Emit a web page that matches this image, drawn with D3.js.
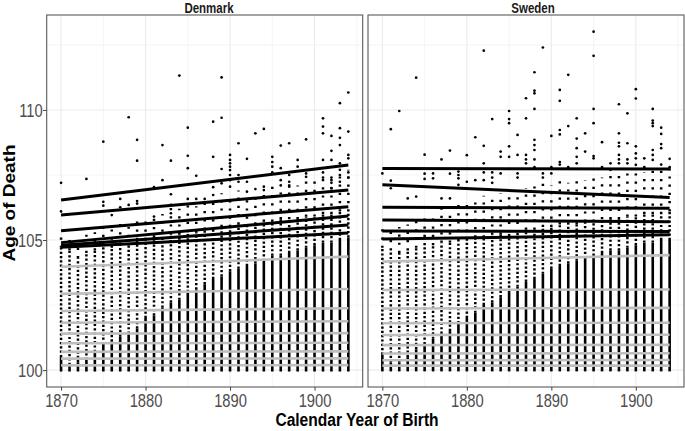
<!DOCTYPE html>
<html><head><meta charset="utf-8">
<script src="https://cdn.jsdelivr.net/npm/d3@7"></script>
<style>body{margin:0;background:#fff} svg{display:block}</style>
</head><body>
<svg id="c" width="685" height="431"></svg>
<script>
// ---------------- DATA ----------------
const years = [1870,1871,1872,1873,1874,1875,1876,1877,1878,1879,1880,1881,1882,1883,1884,1885,1886,1887,1888,1889,1890,1891,1892,1893,1894,1895,1896,1897,1898,1899,1900,1901,1902,1903,1904];
const countries = ["Denmark","Sweden"];
const xTicks = [1870,1880,1890,1900];
const yTicks = [100,105,110];

// Denmark: per birth year, tops of solid / dotted / sparse point columns (age)
const dkSolid  = [100.5,100.2,100.3,100.4,100.7,101.0,101.1,101.3,101.4,101.6,102.0,102.1,102.4,102.6,102.7,103.0,103.1,103.3,103.5,103.6,103.8,103.9,104.0,104.1,104.2,104.4,104.4,104.5,104.6,104.7,104.8,104.9,104.9,105.0,105.1];
const dkDotted = [104.7,104.6,104.3,104.5,104.6,104.8,104.7,104.9,104.8,105.0,105.0,105.1,105.0,105.2,105.2,105.3,105.3,105.4,105.4,105.5,105.5,105.6,105.5,105.6,105.7,105.7,105.8,105.8,105.8,105.9,105.9,106.0,106.0,106.1,106.1];
const dkSparse = [105.3,105.0,104.9,105.2,105.3,105.6,105.4,105.8,105.5,105.9,105.8,106.0,106.0,106.3,106.2,106.4,106.3,106.5,106.5,106.8,106.6,106.9,106.7,106.8,106.9,107.1,107.0,107.2,107.1,107.3,107.3,107.5,107.4,107.6,107.7];
const dkPoints = [[1870,107.2],[1870,106.1],[1873,107.35],[1875,108.78],[1875,106.47],[1875,106.32],[1876,105.96],[1877,106.58],[1877,106.26],[1878,109.72],[1878,106.35],[1879,108.85],[1879,108.05],[1879,106.5],[1879,106.4],[1881,107.03],[1881,105.9],[1882,108.65],[1882,107.3],[1883,108.05],[1883,106.76],[1883,106.35],[1883,106.03],[1884,111.32],[1885,109.32],[1885,108.24],[1885,107.76],[1885,106.58],[1886,107.47],[1886,106.58],[1887,106.58],[1888,109.55],[1888,108.2],[1888,107.03],[1888,106.73],[1889,111.25],[1889,109.7],[1889,107.73],[1889,107.18],[1890,108.27],[1890,108.08],[1890,107.95],[1890,107.82],[1890,107.69],[1890,107.5],[1890,107.3],[1890,107.05],[1891,108.72],[1891,107.5],[1891,107.24],[1892,108.12],[1892,107.24],[1892,106.86],[1893,109.1],[1893,106.96],[1894,109.27],[1894,107.05],[1894,106.92],[1895,108.2],[1895,108.0],[1895,107.82],[1895,107.6],[1896,108.63],[1896,107.76],[1896,107.3],[1896,107.1],[1897,108.72],[1897,107.5],[1897,107.24],[1897,107.05],[1898,108.08],[1898,107.82],[1899,108.87],[1899,107.56],[1899,107.43],[1901,109.68],[1901,109.36],[1901,109.1],[1901,108.08],[1901,107.6],[1901,107.4],[1902,109.0],[1902,108.43],[1902,108.08],[1902,107.4],[1902,107.2],[1902,107.0],[1903,110.26],[1903,109.3],[1903,108.93],[1903,108.65],[1903,107.95],[1903,107.7],[1903,107.5],[1903,107.24],[1904,110.67],[1904,109.17],[1904,108.27],[1904,108.14],[1904,107.6],[1904,107.4]];
// Denmark quantile regression lines: fitted age at 1870 and at 1904
const dkUpper1870 = [106.54,105.96,105.36,104.90,104.80,104.72];
const dkUpper1904 = [107.88,106.92,106.28,105.92,105.58,105.27];
const dkLower1870 = [103.97,102.93,102.27,101.82,101.40,101.03,100.70,100.44,100.18];
const dkLower1904 = [104.36,103.12,102.38,101.88,101.42,101.05,100.72,100.45,100.19];

// Sweden
const seSolid  = [100.6,100.3,100.3,100.5,100.8,101.0,101.2,101.4,101.5,101.8,102.0,102.2,102.5,102.6,102.8,103.0,103.2,103.4,103.5,103.7,103.9,104.0,104.1,104.2,104.3,104.4,104.5,104.6,104.6,104.7,104.8,104.9,104.9,105.0,105.0];
const seDotted = [104.7,104.6,104.5,104.6,104.7,104.8,104.8,104.9,104.9,105.0,105.0,105.1,105.1,105.2,105.2,105.3,105.3,105.4,105.4,105.5,105.5,105.6,105.6,105.6,105.7,105.7,105.8,105.8,105.8,105.9,105.9,106.0,106.0,106.0,106.1];
const seSparse = [105.6,105.4,105.5,105.6,105.8,106.0,105.9,106.2,106.1,106.4,106.5,106.5,106.7,106.6,106.8,106.9,106.8,107.0,107.1,107.2,107.1,107.3,107.2,107.4,107.3,107.5,107.4,107.5,107.6,107.6,107.7,107.6,107.8,107.7,107.8];
const sePoints = [[1870,107.56],[1871,109.26],[1871,107.28],[1871,106.99],[1872,109.96],[1873,106.6],[1874,111.24],[1874,106.67],[1875,108.28],[1875,107.55],[1875,107.35],[1876,107.56],[1876,107.37],[1877,108.1],[1877,106.6],[1878,108.44],[1878,107.55],[1878,106.6],[1879,107.63],[1879,107.5],[1879,107.37],[1879,107.12],[1880,108.26],[1880,107.24],[1881,108.95],[1881,107.3],[1882,112.28],[1882,108.62],[1882,107.95],[1882,107.6],[1882,107.3],[1883,109.65],[1883,107.6],[1883,107.4],[1883,107.2],[1884,108.4],[1884,108.2],[1884,107.56],[1885,109.96],[1885,109.65],[1885,109.49],[1885,108.6],[1885,108.2],[1886,109.04],[1886,108.27],[1886,107.56],[1886,107.4],[1887,110.45],[1887,109.68],[1887,108.27],[1887,108.1],[1887,107.95],[1888,111.45],[1888,110.74],[1888,110.64],[1888,110.04],[1888,108.85],[1888,108.65],[1888,108.46],[1888,108.1],[1888,107.8],[1889,112.4],[1889,107.56],[1889,107.4],[1890,109.0],[1890,107.8],[1890,107.56],[1891,110.77],[1891,110.35],[1891,109.23],[1891,109.06],[1891,108.0],[1891,107.9],[1892,111.35],[1892,109.38],[1892,107.8],[1893,109.68],[1893,108.9],[1893,108.53],[1893,108.2],[1893,107.95],[1894,109.1],[1894,108.4],[1895,113.01],[1895,112.08],[1895,110.04],[1895,109.49],[1895,108.23],[1895,108.14],[1896,108.76],[1896,107.8],[1897,107.95],[1897,107.7],[1898,110.22],[1898,109.1],[1898,108.74],[1898,108.6],[1898,108.27],[1898,108.1],[1898,107.95],[1899,109.87],[1899,108.72],[1899,108.1],[1899,107.95],[1900,110.8],[1900,110.44],[1900,108.6],[1900,108.33],[1900,108.14],[1900,107.89],[1901,108.14],[1901,107.8],[1902,110.04],[1902,109.59],[1902,109.49],[1902,109.38],[1902,108.46],[1902,108.27],[1902,108.08],[1903,109.32],[1903,109.08],[1903,108.69],[1903,108.53],[1903,107.9],[1904,108.12],[1904,107.8]];
const seUpper1870 = [107.75,107.12,106.26,105.77,105.35,105.04];
const seUpper1904 = [107.73,106.63,106.22,105.70,105.33,105.20];
const seLower1870 = [104.17,103.08,102.37,101.80,101.35,100.96,100.64,100.38,100.17];
const seLower1904 = [104.42,103.10,102.39,101.82,101.36,100.97,100.65,100.39,100.17];

// ---------------- DRAW ----------------
const SQ = 0.82; // horizontal text condensing
const FONT = "'Liberation Sans', Arial, Helvetica, sans-serif";
const svg = d3.select("#c");
const y = d3.scaleLinear().domain([99.35, 113.65]).range([387, 15]);

const panels = [
  {name: countries[0], left: 46.7, right: 362.7, labelX: 209, solid: dkSolid, dotted: dkDotted, sparse: dkSparse, pts: dkPoints, u0: dkUpper1870, u1: dkUpper1904, l0: dkLower1870, l1: dkLower1904, yAxis: true},
  {name: countries[1], left: 368, right: 684, labelX: 533, solid: seSolid, dotted: seDotted, sparse: seSparse, pts: sePoints, u0: seUpper1870, u1: seUpper1904, l0: seLower1870, l1: seLower1904, yAxis: false}
];

function squeezeAxisText(axisG) {
  axisG.selectAll("text").each(function() {
    const t = d3.select(this);
    const tx = +t.attr("x") || 0, ty = +t.attr("y") || 0;
    t.attr("x", 0).attr("y", 0).attr("transform", `translate(${tx},${ty}) scale(${SQ},1)`);
  });
}

panels.forEach((p, i) => {
  const x = d3.scaleLinear().domain([1868.3, 1905.7]).range([p.left, p.right]);
  const g = svg.append("g");
  const clipId = "clip" + i;
  svg.append("clipPath").attr("id", clipId).append("rect")
    .attr("x", p.left).attr("y", 15).attr("width", p.right - p.left).attr("height", 372);
  const body = g.append("g").attr("clip-path", `url(#${clipId})`);

  // grid
  const minorX = [1865,1875,1885,1895,1905], minorY = [102.5,107.5,112.5];
  body.selectAll(".mx").data(minorX).join("line")
    .attr("x1", d => x(d)).attr("x2", d => x(d)).attr("y1", 15).attr("y2", 387)
    .attr("stroke", "#ebebeb").attr("stroke-width", 0.55);
  body.selectAll(".my").data(minorY).join("line")
    .attr("y1", d => y(d)).attr("y2", d => y(d)).attr("x1", p.left).attr("x2", p.right)
    .attr("stroke", "#ebebeb").attr("stroke-width", 0.55);
  body.selectAll(".gx").data(xTicks).join("line")
    .attr("x1", d => x(d)).attr("x2", d => x(d)).attr("y1", 15).attr("y2", 387)
    .attr("stroke", "#ebebeb").attr("stroke-width", 1.1);
  body.selectAll(".gy").data(yTicks).join("line")
    .attr("y1", d => y(d)).attr("y2", d => y(d)).attr("x1", p.left).attr("x2", p.right)
    .attr("stroke", "#ebebeb").attr("stroke-width", 1.1);

  // point columns
  const cols = years.map((yr, k) => ({yr, s1: p.solid[k], s2: p.dotted[k], s3: p.sparse[k]}));
  body.selectAll(".c1").data(cols).join("line")
    .attr("x1", d => x(d.yr)).attr("x2", d => x(d.yr))
    .attr("y1", y(100) + 1.3).attr("y2", d => y(d.s1))
    .attr("stroke", "#000").attr("stroke-width", 2.6);
  body.selectAll(".c2").data(cols).join("line")
    .attr("x1", d => x(d.yr)).attr("x2", d => x(d.yr))
    .attr("y1", d => y(d.s1)).attr("y2", d => y(d.s2))
    .attr("stroke", "#000").attr("stroke-width", 2.5).attr("stroke-dasharray", "2.2,2.1");
  body.selectAll(".c3").data(cols).join("line")
    .attr("x1", d => x(d.yr)).attr("x2", d => x(d.yr))
    .attr("y1", d => y(d.s2)).attr("y2", d => y(d.s3))
    .attr("stroke", "#000").attr("stroke-width", 2.5).attr("stroke-dasharray", "2.2,6");
  body.selectAll(".pt").data(p.pts).join("circle")
    .attr("cx", d => x(d[0])).attr("cy", d => y(d[1])).attr("r", 1.35).attr("fill", "#000");

  // quantile lines
  const lower = p.l0.map((v, k) => [[years[0], v], [years[years.length - 1], p.l1[k]]]);
  const upper = p.u0.map((v, k) => [[years[0], v], [years[years.length - 1], p.u1[k]]]);
  const line = d3.line().x(d => x(d[0])).y(d => y(d[1]));
  body.selectAll(".lq").data(lower).join("path").attr("d", line)
    .attr("fill", "none").attr("stroke", "#bebebe").attr("stroke-width", 2.6);
  body.selectAll(".uq").data(upper).join("path").attr("d", line)
    .attr("fill", "none").attr("stroke", "#000").attr("stroke-width", 3);

  // border
  g.append("rect").attr("x", p.left).attr("y", 15).attr("width", p.right - p.left).attr("height", 372)
    .attr("fill", "none").attr("stroke", "#5a5a5a").attr("stroke-width", 1.1);

  // x axis
  const xa = g.append("g").attr("transform", "translate(0,387)")
    .call(d3.axisBottom(x).tickValues(xTicks).tickSize(3.7).tickPadding(3.3).tickFormat(d3.format("d")));
  xa.select(".domain").remove();
  xa.selectAll("line").attr("stroke", "#444").attr("stroke-width", 1);
  xa.selectAll("text").attr("fill", "#4d4d4d").style("font-size", "18px").style("font-family", FONT);
  squeezeAxisText(xa);

  if (p.yAxis) {
    const ya = g.append("g").attr("transform", `translate(${p.left},0)`)
      .call(d3.axisLeft(y).tickValues(yTicks).tickSize(3.7).tickPadding(0.3));
    ya.select(".domain").remove();
    ya.selectAll("line").attr("stroke", "#444").attr("stroke-width", 1);
    ya.selectAll("text").attr("fill", "#4d4d4d").style("font-size", "18px").style("font-family", FONT).attr("dy", "0.36em");
    squeezeAxisText(ya);
  }

  // strip label
  g.append("text").attr("transform", `translate(${p.labelX},13) scale(${SQ},1)`)
    .attr("text-anchor", "middle").style("font-family", FONT).style("font-weight", "bold")
    .style("font-size", "14px").attr("fill", "#1a1a1a").text(p.name);
});

// axis titles
svg.append("text").attr("transform", `translate(357,426) scale(${SQ},1)`)
  .attr("text-anchor", "middle").style("font-family", FONT).style("font-weight", "bold")
  .style("font-size", "19px").attr("fill", "#000").text("Calendar Year of Birth");
svg.append("text").attr("transform", `translate(15,203) scale(${SQ},1) rotate(-90)`)
  .attr("text-anchor", "middle").style("font-family", FONT).style("font-weight", "bold")
  .style("font-size", "19px").attr("fill", "#000").text("Age of Death");
</script>
</body></html>
